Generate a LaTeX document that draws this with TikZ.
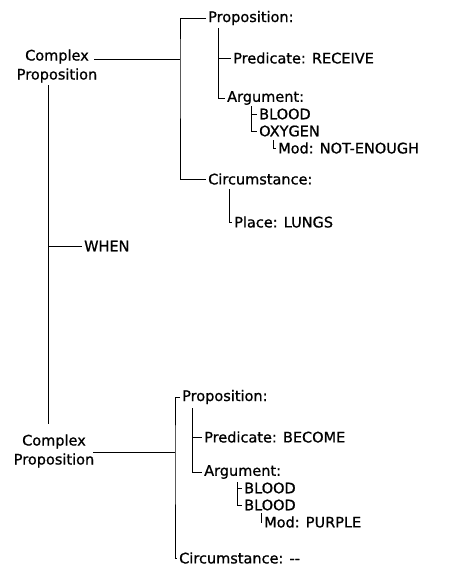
\documentclass[tikz,border=0pt]{standalone}
\usepackage{fontspec}
\setmainfont{DejaVu Sans}
\newfontfamily\lblfont[BoldFont={DejaVu Sans},BoldFeatures={FakeBold=0.9}]{DejaVu Sans}
\begin{document}
\begin{tikzpicture}[x=1pt,y=-1pt,
  lbl/.style={anchor=west,inner sep=2pt,font=\lblfont\bfseries\fontsize{14.5}{19}\selectfont},
  cplx/.style={align=center,inner sep=1pt,font=\lblfont\bfseries\fontsize{14.5}{19}\selectfont},
  conn/.style={line width=0.9pt}]
\useasboundingbox (0,0) rectangle (452,566);
% ---------- top complex proposition ----------
\node[cplx] (cp1) at (57,66) {Complex\\Proposition};
\coordinate (cp1r) at (94,59);
\coordinate (b1) at (180,59);
\node[lbl] (p1) at (206,18) {Proposition:};
\node[lbl] (pred1) at (231,58) {Predicate: RECEIVE};
\node[lbl] (arg1) at (225,98) {Argument:};
\node[lbl] (bl1) at (257,114) {BLOOD};
\node[lbl] (ox1) at (257,131) {OXYGEN};
\node[lbl] (mod1) at (276,148) {Mod: NOT-ENOUGH};
\node[lbl] (c1) at (206,179) {Circumstance:};
\node[lbl] (pl1) at (232,222) {Place: LUNGS};
\coordinate (s1) at (218,28);
\coordinate (a1) at (251,106);
\coordinate (m1) at (273,140);
\coordinate (q1) at (229,189);
\draw[conn] (cp1r) -- (b1);
\draw[conn] (p1.west) -| (b1) |- (c1.west);
\draw[conn] (s1) |- (pred1.west);
\draw[conn] (s1) |- (arg1.west);
\draw[conn] (a1) |- (bl1.west);
\draw[conn] (a1) |- (ox1.west);
\draw[conn] (m1) |- (mod1.west);
\draw[conn] (q1) |- (pl1.west);
% ---------- WHEN ----------
\coordinate (v1) at (48,85);
\coordinate (v2) at (48,424);
\node[lbl] (when) at (82,246) {WHEN};
\draw[conn] (v1) -- (v2);
\draw[conn] (when.west) -- (when.west -| v1);
% ---------- bottom complex proposition ----------
\node[cplx] (cp2) at (54,451) {Complex\\Proposition};
\coordinate (cp2r) at (93,452);
\coordinate (b2) at (175,452);
\node[lbl] (p2) at (180,397) {Proposition:};
\node[lbl] (pred2) at (202,437) {Predicate: BECOME};
\node[lbl] (arg2) at (202,472) {Argument:};
\node[lbl] (bl2) at (242,488) {BLOOD};
\node[lbl] (bl3) at (242,505) {BLOOD};
\node[lbl] (mod2) at (262,522) {Mod: PURPLE};
\node[lbl] (c2) at (177,558) {Circumstance: -{}-};
\coordinate (s2) at (192,408);
\coordinate (a2) at (237,482);
\coordinate (m2) at (261,513);
\draw[conn] (cp2r) -- (b2);
\draw[conn] (p2.west) -| (b2) |- (c2.west);
\draw[conn] (s2) |- (pred2.west);
\draw[conn] (s2) |- (arg2.west);
\draw[conn] (a2) |- (bl2.west);
\draw[conn] (a2) |- (bl3.west);
\draw[conn] (m2) |- (mod2.west);
\end{tikzpicture}
\end{document}
